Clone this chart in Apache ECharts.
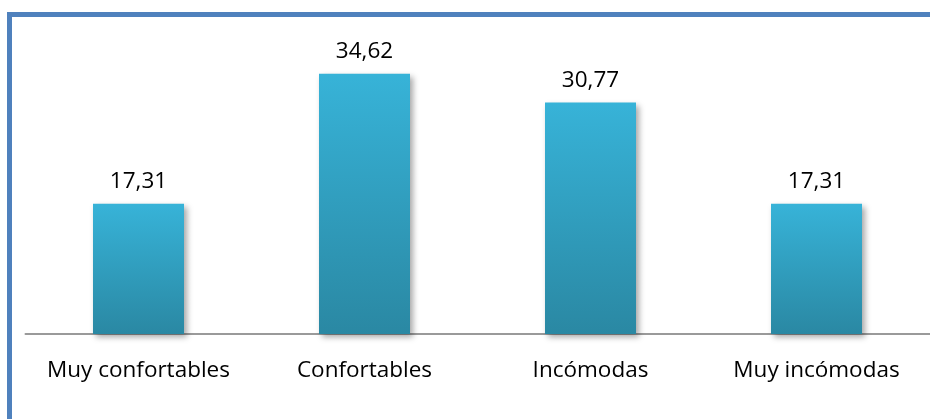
<!DOCTYPE html>
<html>
<head>
<meta charset="utf-8">
<style>
  html, body { margin: 0; padding: 0; background: #ffffff; }
  #chart { width: 930px; height: 419px; }
</style>
<script src="https://cdn.jsdelivr.net/npm/echarts@6/dist/echarts.min.js"></script>
</head>
<body>
<div id="chart"></div>
<script>
// Comfort rating shares (%)
const categories = ['Muy confortables', 'Confortables', 'Incómodas', 'Muy incómodas'];
const values = [17.31, 34.62, 30.77, 17.31];

const chart = echarts.init(document.getElementById('chart'), null, { renderer: 'canvas' });

const barFill = new echarts.graphic.LinearGradient(0, 0, 0, 1, [
  { offset: 0, color: '#37b3d8' },
  { offset: 1, color: '#2a88a3' }
]);

chart.setOption({
  backgroundColor: '#ffffff',
  animation: false,
  graphic: [{
    type: 'rect',
    shape: { x: 9.5, y: 14.5, width: 960, height: 440 },
    style: { fill: 'none', stroke: '#4f81bd', lineWidth: 5 },
    z: 10
  }],
  grid: { left: 25.5, right: 0.5, top: 33.2, bottom: 85 },
  xAxis: {
    type: 'category',
    data: categories,
    axisTick: { show: false },
    axisLine: { lineStyle: { color: '#9a9a9a', width: 2 } },
    axisLabel: {
      color: '#000000',
      fontFamily: 'Open Sans',
      fontSize: 22.5,
      margin: 25,
      interval: 0
    }
  },
  yAxis: {
    type: 'value',
    min: 0,
    max: 40,
    show: false,
    splitLine: { show: false }
  },
  series: [{
    type: 'bar',
    data: values,
    barWidth: 91,
    itemStyle: {
      color: barFill,
      shadowColor: 'rgba(0,0,0,0.35)',
      shadowBlur: 6,
      shadowOffsetX: 3,
      shadowOffsetY: 3
    },
    label: {
      show: true,
      position: 'top',
      distance: 11,
      color: '#000000',
      fontFamily: 'Open Sans',
      fontSize: 22.5,
      formatter: p => p.value.toFixed(2).replace('.', ',')
    }
  }]
});
</script>
</body>
</html>
